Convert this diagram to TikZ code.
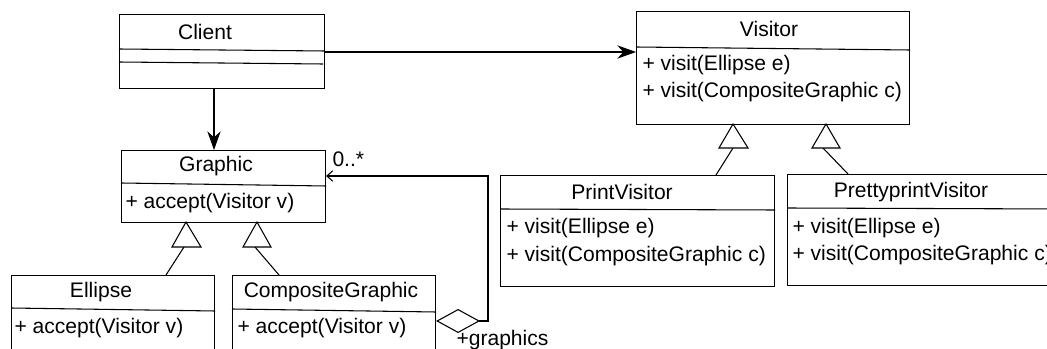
\documentclass[tikz,border=0pt]{standalone}
\usepackage{fontspec}
\setmainfont{Liberation Sans}
\usetikzlibrary{arrows.meta,calc}
\begin{document}
\begin{tikzpicture}[x=0.75pt,y=-0.75pt,line width=0.8pt,
  box/.style={draw,inner sep=0,anchor=north west},
  lbl/.style={inner sep=0,font=\fontsize{15.8}{19}\selectfont},
  mth/.style={lbl,anchor=west},
  gen/.style={fill=white,line join=miter},
  nav/.style={-{Stealth[length=14pt,width=10pt,inset=4.5pt]}}]
\useasboundingbox (0,0) rectangle (1047,349);
\clip (0,0) rectangle (1047,349);
% boxes
\node[box,minimum width=153.75pt,minimum height=55.5pt] (client) at (119,14) {};
\node[box,minimum width=204.75pt,minimum height=84.75pt] (visitor) at (636,11) {};
\node[box,minimum width=153pt,minimum height=54pt] (graphic) at (121,150) {};
\node[box,minimum width=152.25pt,minimum height=67.5pt] (ellipse) at (11,275) {};
\node[box,minimum width=152.25pt,minimum height=67.5pt] (cg) at (232,275) {};
\node[box,minimum width=205.5pt,minimum height=83.25pt] (pv) at (500,175) {};
\node[box,minimum width=205.5pt,minimum height=83.25pt] (ppv) at (787,174) {};
% dividers
\draw ($(client.north west)+(0,35)$) -- ($(client.north east)+(0,37)$);
\draw ($(client.north west)+(0,48)$) -- ($(client.north east)+(-2,50)$);
\draw ($(visitor.north west)+(0,36)$) -- ($(visitor.north east)+(0,39)$);
\draw ($(graphic.north west)+(0,33)$) -- ($(graphic.north east)+(0,36)$);
\draw ($(ellipse.north west)+(0,33)$) -- ($(ellipse.north east)+(0,36)$);
\draw ($(cg.north west)+(0,34)$) -- ($(cg.north east)+(0,37)$);
\draw ($(pv.north west)+(0,34)$) -- ($(pv.north east)+(0,35)$);
\draw ($(ppv.north west)+(0,34)$) -- ($(ppv.north east)+(0,35)$);
% texts
\node[lbl] (clientT) at (205,32) {Client};
\node[lbl] (visitorT) at (769,29) {Visitor};
\node[mth] (visitorM1) at (642,65) {+ visit(Ellipse e)};
\node[mth] (visitorM2) at (642,92) {+ visit(CompositeGraphic c)};
\node[lbl] (graphicT) at (216,166) {Graphic};
\node[mth] (graphicM) at (125,203) {+ accept(Visitor v)};
\node[lbl] (ellipseT) at (101,292) {Ellipse};
\node[mth] (ellipseM) at (14,328) {+ accept(Visitor v)};
\node[lbl] (cgT) at (331,292) {CompositeGraphic};
\node[mth] (cgM) at (237,328) {+ accept(Visitor v)};
\node[lbl] (pvT) at (622,192) {PrintVisitor};
\node[mth] (pvM1) at (506,228) {+ visit(Ellipse e)};
\node[mth] (pvM2) at (506,256) {+ visit(CompositeGraphic c)};
\node[lbl] (ppvT) at (911,192) {PrettyprintVisitor};
\node[mth] (ppvM1) at (792,228) {+ visit(Ellipse e)};
\node[mth] (ppvM2) at (792,255) {+ visit(CompositeGraphic c)};
\node[mth] (mult) at (332,159) {0..*};
\node[mth] (role) at (456,340) {+graphics};
% navigations
\coordinate (cvA) at ($(client.north east)+(0,38)$);
\draw[nav] (cvA) -- (cvA -| visitor.west);
\draw[nav] ($(client.south west)+(95,0)$) -- ($(graphic.north west)+(93,0)$);
% aggregation
\coordinate (agA) at ($(cg.north east)+(0,46)$);
\coordinate (agB) at (488,321);
\coordinate (agC) at (488,176);
\coordinate (agG) at ($(graphic.north east)+(0,26)$);
\draw[{Diamond[open,length=33pt,width=18pt]}-{Straight Barb[length=4.5pt,width=8pt]}]
  (agA) -- (agB) -- (agC) -- (agG);
% generalizations
\coordinate (t1) at (184,247);
\coordinate (t2) at (255,247);
\coordinate (t3) at (733,148);
\coordinate (t4) at (823,148);
\draw (t1) -- ($(ellipse.north west)+(155,0)$);
\draw (t2) -- ($(cg.north west)+(47,0)$);
\draw (t3) -- ($(pv.north west)+(216,0)$);
\draw (t4) -- ($(ppv.north west)+(61,0)$);
\draw[gen] (186,222) -- (201,247) -- (172,247) -- cycle;
\draw[gen] (257,222) -- (271,247) -- (243,247) -- cycle;
\draw[gen] (733,124) -- (748,148) -- (719,148) -- cycle;
\draw[gen] (826,124) -- (840,148) -- (812,148) -- cycle;
\end{tikzpicture}
\end{document}
